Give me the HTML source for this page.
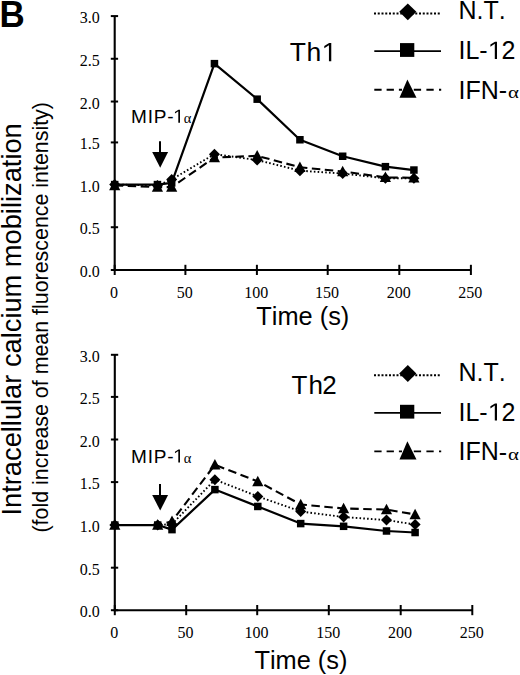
<!DOCTYPE html>
<html><head><meta charset="utf-8"><style>
html,body{margin:0;padding:0;background:#fff;}
body{width:520px;height:675px;overflow:hidden;}
svg{display:block;}
text{font-kerning:none;}
</style></head><body>
<svg width="520" height="675" viewBox="0 0 520 675">
<rect width="520" height="675" fill="#fff"/>
<line x1="114.70" y1="16.08" x2="114.70" y2="271.00" stroke="#000" stroke-width="2.1"/>
<line x1="113.70" y1="270.00" x2="470.90" y2="270.00" stroke="#000" stroke-width="2.1"/>
<line x1="110.80" y1="270.00" x2="118.10" y2="270.00" stroke="#000" stroke-width="2"/>
<text x="99.8" y="277.00" text-anchor="end" font-family='"Liberation Serif", serif' font-size="16">0.0</text>
<line x1="110.80" y1="227.23" x2="118.10" y2="227.23" stroke="#000" stroke-width="2"/>
<text x="99.8" y="234.23" text-anchor="end" font-family='"Liberation Serif", serif' font-size="16">0.5</text>
<line x1="110.80" y1="184.80" x2="118.10" y2="184.80" stroke="#000" stroke-width="2"/>
<text x="99.8" y="191.80" text-anchor="end" font-family='"Liberation Serif", serif' font-size="16">1.0</text>
<line x1="110.80" y1="142.42" x2="118.10" y2="142.42" stroke="#000" stroke-width="2"/>
<text x="99.8" y="149.42" text-anchor="end" font-family='"Liberation Serif", serif' font-size="16">1.5</text>
<line x1="110.80" y1="101.54" x2="118.10" y2="101.54" stroke="#000" stroke-width="2"/>
<text x="99.8" y="108.54" text-anchor="end" font-family='"Liberation Serif", serif' font-size="16">2.0</text>
<line x1="110.80" y1="58.77" x2="118.10" y2="58.77" stroke="#000" stroke-width="2"/>
<text x="99.8" y="65.77" text-anchor="end" font-family='"Liberation Serif", serif' font-size="16">2.5</text>
<line x1="110.80" y1="16.08" x2="118.10" y2="16.08" stroke="#000" stroke-width="2"/>
<text x="99.8" y="23.08" text-anchor="end" font-family='"Liberation Serif", serif' font-size="16">3.0</text>
<line x1="114.70" y1="264.80" x2="114.70" y2="275.00" stroke="#000" stroke-width="2"/>
<text x="114.10" y="297.80" text-anchor="middle" font-family='"Liberation Serif", serif' font-size="16">0</text>
<line x1="185.40" y1="264.80" x2="185.40" y2="275.00" stroke="#000" stroke-width="2"/>
<text x="184.80" y="297.80" text-anchor="middle" font-family='"Liberation Serif", serif' font-size="16">50</text>
<line x1="256.90" y1="264.80" x2="256.90" y2="275.00" stroke="#000" stroke-width="2"/>
<text x="256.30" y="297.80" text-anchor="middle" font-family='"Liberation Serif", serif' font-size="16">100</text>
<line x1="327.70" y1="264.80" x2="327.70" y2="275.00" stroke="#000" stroke-width="2"/>
<text x="327.10" y="297.80" text-anchor="middle" font-family='"Liberation Serif", serif' font-size="16">150</text>
<line x1="399.30" y1="264.80" x2="399.30" y2="275.00" stroke="#000" stroke-width="2"/>
<text x="398.70" y="297.80" text-anchor="middle" font-family='"Liberation Serif", serif' font-size="16">200</text>
<line x1="470.90" y1="264.80" x2="470.90" y2="275.00" stroke="#000" stroke-width="2"/>
<text x="470.30" y="297.80" text-anchor="middle" font-family='"Liberation Serif", serif' font-size="16">250</text>
<polyline points="114.70,185.43 157.44,187.12 171.69,187.12 214.44,157.52 257.18,155.83 299.92,167.25 342.67,171.48 385.41,177.40 413.91,177.82" fill="none" stroke="#000" stroke-width="2.1" stroke-dasharray="8.5 4.5"/>
<path d="M114.70 179.66L120.30 190.16L109.10 190.16Z" fill="#000"/>
<path d="M157.44 181.35L163.04 191.85L151.84 191.85Z" fill="#000"/>
<path d="M171.69 181.35L177.29 191.85L166.09 191.85Z" fill="#000"/>
<path d="M214.44 151.75L220.04 162.25L208.84 162.25Z" fill="#000"/>
<path d="M257.18 150.06L262.78 160.56L251.58 160.56Z" fill="#000"/>
<path d="M299.92 161.47L305.52 171.97L294.32 171.97Z" fill="#000"/>
<path d="M342.67 165.70L348.27 176.20L337.07 176.20Z" fill="#000"/>
<path d="M385.41 171.62L391.01 182.12L379.81 182.12Z" fill="#000"/>
<path d="M413.91 172.04L419.51 182.54L408.31 182.54Z" fill="#000"/>
<polyline points="114.70,184.58 157.44,185.43 171.69,179.51 214.44,154.14 257.18,160.06 299.92,170.63 342.67,173.59 385.41,178.24 413.91,178.24" fill="none" stroke="#000" stroke-width="1.9" stroke-dasharray="1.6 2.2"/>
<path d="M114.70 179.08L120.20 184.58L114.70 190.08L109.20 184.58Z" fill="#000"/>
<path d="M157.44 179.93L162.94 185.43L157.44 190.93L151.94 185.43Z" fill="#000"/>
<path d="M171.69 174.01L177.19 179.51L171.69 185.01L166.19 179.51Z" fill="#000"/>
<path d="M214.44 148.64L219.94 154.14L214.44 159.64L208.94 154.14Z" fill="#000"/>
<path d="M257.18 154.56L262.68 160.06L257.18 165.56L251.68 160.06Z" fill="#000"/>
<path d="M299.92 165.13L305.42 170.63L299.92 176.13L294.42 170.63Z" fill="#000"/>
<path d="M342.67 168.09L348.17 173.59L342.67 179.09L337.17 173.59Z" fill="#000"/>
<path d="M385.41 172.74L390.91 178.24L385.41 183.74L379.91 178.24Z" fill="#000"/>
<path d="M413.91 172.74L419.41 178.24L413.91 183.74L408.41 178.24Z" fill="#000"/>
<polyline points="114.70,184.58 157.44,184.58 171.69,182.89 214.44,63.65 257.18,99.17 299.92,139.76 342.67,156.25 385.41,166.66 413.91,170.04" fill="none" stroke="#000" stroke-width="2.2" stroke-linejoin="round"/>
<rect x="110.95" y="180.83" width="7.50" height="7.50" fill="#000"/>
<rect x="153.69" y="180.83" width="7.50" height="7.50" fill="#000"/>
<rect x="167.94" y="179.14" width="7.50" height="7.50" fill="#000"/>
<rect x="210.69" y="59.90" width="7.50" height="7.50" fill="#000"/>
<rect x="253.43" y="95.42" width="7.50" height="7.50" fill="#000"/>
<rect x="296.17" y="136.01" width="7.50" height="7.50" fill="#000"/>
<rect x="338.92" y="152.50" width="7.50" height="7.50" fill="#000"/>
<rect x="381.66" y="162.91" width="7.50" height="7.50" fill="#000"/>
<rect x="410.16" y="166.29" width="7.50" height="7.50" fill="#000"/>
<line x1="114.80" y1="354.80" x2="114.80" y2="611.20" stroke="#000" stroke-width="2.1"/>
<line x1="113.80" y1="610.20" x2="472.30" y2="610.20" stroke="#000" stroke-width="2.1"/>
<line x1="110.90" y1="610.20" x2="118.20" y2="610.20" stroke="#000" stroke-width="2"/>
<text x="99.8" y="617.20" text-anchor="end" font-family='"Liberation Serif", serif' font-size="16">0.0</text>
<line x1="110.90" y1="567.70" x2="118.20" y2="567.70" stroke="#000" stroke-width="2"/>
<text x="99.8" y="574.70" text-anchor="end" font-family='"Liberation Serif", serif' font-size="16">0.5</text>
<line x1="110.90" y1="524.90" x2="118.20" y2="524.90" stroke="#000" stroke-width="2"/>
<text x="99.8" y="531.90" text-anchor="end" font-family='"Liberation Serif", serif' font-size="16">1.0</text>
<line x1="110.90" y1="482.10" x2="118.20" y2="482.10" stroke="#000" stroke-width="2"/>
<text x="99.8" y="489.10" text-anchor="end" font-family='"Liberation Serif", serif' font-size="16">1.5</text>
<line x1="110.90" y1="439.50" x2="118.20" y2="439.50" stroke="#000" stroke-width="2"/>
<text x="99.8" y="446.50" text-anchor="end" font-family='"Liberation Serif", serif' font-size="16">2.0</text>
<line x1="110.90" y1="396.90" x2="118.20" y2="396.90" stroke="#000" stroke-width="2"/>
<text x="99.8" y="403.90" text-anchor="end" font-family='"Liberation Serif", serif' font-size="16">2.5</text>
<line x1="110.90" y1="354.80" x2="118.20" y2="354.80" stroke="#000" stroke-width="2"/>
<text x="99.8" y="361.80" text-anchor="end" font-family='"Liberation Serif", serif' font-size="16">3.0</text>
<line x1="114.80" y1="605.00" x2="114.80" y2="615.20" stroke="#000" stroke-width="2"/>
<text x="114.20" y="638.00" text-anchor="middle" font-family='"Liberation Serif", serif' font-size="16">0</text>
<line x1="186.20" y1="605.00" x2="186.20" y2="615.20" stroke="#000" stroke-width="2"/>
<text x="185.60" y="638.00" text-anchor="middle" font-family='"Liberation Serif", serif' font-size="16">50</text>
<line x1="257.20" y1="605.00" x2="257.20" y2="615.20" stroke="#000" stroke-width="2"/>
<text x="256.60" y="638.00" text-anchor="middle" font-family='"Liberation Serif", serif' font-size="16">100</text>
<line x1="328.80" y1="605.00" x2="328.80" y2="615.20" stroke="#000" stroke-width="2"/>
<text x="328.20" y="638.00" text-anchor="middle" font-family='"Liberation Serif", serif' font-size="16">150</text>
<line x1="400.70" y1="605.00" x2="400.70" y2="615.20" stroke="#000" stroke-width="2"/>
<text x="400.10" y="638.00" text-anchor="middle" font-family='"Liberation Serif", serif' font-size="16">200</text>
<line x1="472.30" y1="605.00" x2="472.30" y2="615.20" stroke="#000" stroke-width="2"/>
<text x="471.70" y="638.00" text-anchor="middle" font-family='"Liberation Serif", serif' font-size="16">250</text>
<polyline points="114.80,525.03 157.70,525.03 172.00,521.20 214.90,464.81 257.80,481.42 300.70,504.50 343.60,508.51 386.50,509.53 415.10,514.47" fill="none" stroke="#000" stroke-width="2.1" stroke-dasharray="8.5 4.5"/>
<path d="M114.80 519.26L120.40 529.76L109.20 529.76Z" fill="#000"/>
<path d="M157.70 519.26L163.30 529.76L152.10 529.76Z" fill="#000"/>
<path d="M172.00 515.42L177.60 525.92L166.40 525.92Z" fill="#000"/>
<path d="M214.90 459.04L220.50 469.54L209.30 469.54Z" fill="#000"/>
<path d="M257.80 475.65L263.40 486.15L252.20 486.15Z" fill="#000"/>
<path d="M300.70 498.73L306.30 509.23L295.10 509.23Z" fill="#000"/>
<path d="M343.60 502.73L349.20 513.23L338.00 513.23Z" fill="#000"/>
<path d="M386.50 503.75L392.10 514.25L380.90 514.25Z" fill="#000"/>
<path d="M415.10 508.69L420.70 519.19L409.50 519.19Z" fill="#000"/>
<polyline points="114.80,525.03 157.70,525.03 172.00,524.18 214.90,479.63 257.80,496.41 300.70,511.49 343.60,517.02 386.50,520.09 415.10,524.52" fill="none" stroke="#000" stroke-width="1.9" stroke-dasharray="1.6 2.2"/>
<path d="M114.80 519.53L120.30 525.03L114.80 530.53L109.30 525.03Z" fill="#000"/>
<path d="M157.70 519.53L163.20 525.03L157.70 530.53L152.20 525.03Z" fill="#000"/>
<path d="M172.00 518.68L177.50 524.18L172.00 529.68L166.50 524.18Z" fill="#000"/>
<path d="M214.90 474.13L220.40 479.63L214.90 485.13L209.40 479.63Z" fill="#000"/>
<path d="M257.80 490.91L263.30 496.41L257.80 501.91L252.30 496.41Z" fill="#000"/>
<path d="M300.70 505.99L306.20 511.49L300.70 516.99L295.20 511.49Z" fill="#000"/>
<path d="M343.60 511.52L349.10 517.02L343.60 522.52L338.10 517.02Z" fill="#000"/>
<path d="M386.50 514.59L392.00 520.09L386.50 525.59L381.00 520.09Z" fill="#000"/>
<path d="M415.10 519.02L420.60 524.52L415.10 530.02L409.60 524.52Z" fill="#000"/>
<polyline points="114.80,525.03 157.70,525.03 172.00,529.63 214.90,489.60 257.80,506.46 300.70,523.58 343.60,526.31 386.50,530.99 415.10,532.52" fill="none" stroke="#000" stroke-width="2.2" stroke-linejoin="round"/>
<rect x="111.05" y="521.28" width="7.50" height="7.50" fill="#000"/>
<rect x="153.95" y="521.28" width="7.50" height="7.50" fill="#000"/>
<rect x="168.25" y="525.88" width="7.50" height="7.50" fill="#000"/>
<rect x="211.15" y="485.85" width="7.50" height="7.50" fill="#000"/>
<rect x="254.05" y="502.71" width="7.50" height="7.50" fill="#000"/>
<rect x="296.95" y="519.83" width="7.50" height="7.50" fill="#000"/>
<rect x="339.85" y="522.56" width="7.50" height="7.50" fill="#000"/>
<rect x="382.75" y="527.24" width="7.50" height="7.50" fill="#000"/>
<rect x="411.35" y="528.77" width="7.50" height="7.50" fill="#000"/>
<text x="256.30" y="325.00" font-family='"Liberation Sans", sans-serif' font-size="25" textLength="93" lengthAdjust="spacingAndGlyphs">Time (s)</text>
<text x="131.0" y="122.80" font-family='"Liberation Sans", sans-serif' font-size="19" letter-spacing="0.8">MIP-</text>
<path transform="translate(172.90 122.80) scale(0.00928 -0.00928)" d="M583 0V1237L223 1000V1170L598 1409H763V0Z" fill="#000"/>
<text x="183.65" y="123.00" font-family='"Liberation Serif", serif' font-size="14.5">α</text>
<line x1="160" y1="141.20" x2="160" y2="153.00" stroke="#000" stroke-width="2"/>
<path d="M152.2 152.10L168.1 152.10L160.2 167.70Z" fill="#000"/>
<line x1="374" y1="13.50" x2="440" y2="13.50" stroke="#000" stroke-width="1.9" stroke-dasharray="2 1.75"/>
<path d="M407.8 3.40L416.4 11.80L407.8 20.20L399.2 11.80Z" fill="#000"/>
<line x1="374.3" y1="51.20" x2="441" y2="51.20" stroke="#000" stroke-width="1.8"/>
<rect x="400" y="43.10" width="14.3" height="13.8" fill="#000"/>
<line x1="374.3" y1="89.70" x2="402" y2="89.70" stroke="#000" stroke-width="1.9" stroke-dasharray="7.3 5"/>
<line x1="413.8" y1="89.70" x2="441.2" y2="89.70" stroke="#000" stroke-width="1.9" stroke-dasharray="7.3 5.3"/>
<path d="M407.4 79.50L416.5 97.70L399.5 97.70Z" fill="#000"/>
<text x="458.5" y="18.80" font-family='"Liberation Sans", sans-serif' font-size="25">N.T.</text>
<text y="58.90" font-family='"Liberation Sans", sans-serif' font-size="25"><tspan x="458.5">IL</tspan><tspan x="479.35" dy="0.4">-</tspan><tspan x="501.58" dy="-0.4">2</tspan></text>
<path transform="translate(487.68 58.90) scale(0.01221 -0.01221)" d="M583 0V1237L223 1000V1170L598 1409H763V0Z" fill="#000"/>
<text x="458.5" y="98.60" font-family='"Liberation Sans", sans-serif' font-size="25">IFN<tspan dy="0.6">-</tspan></text>
<text transform="translate(507.91 98.40) scale(1.3 1)" font-family='"Liberation Serif", serif' font-size="16">α</text>
<text x="254.40" y="668.50" font-family='"Liberation Sans", sans-serif' font-size="25" textLength="93" lengthAdjust="spacingAndGlyphs">Time (s)</text>
<text x="131.0" y="462.50" font-family='"Liberation Sans", sans-serif' font-size="19" letter-spacing="0.8">MIP-</text>
<path transform="translate(172.90 462.50) scale(0.00928 -0.00928)" d="M583 0V1237L223 1000V1170L598 1409H763V0Z" fill="#000"/>
<text x="183.65" y="462.70" font-family='"Liberation Serif", serif' font-size="14.5">α</text>
<line x1="160" y1="484.10" x2="160" y2="495.90" stroke="#000" stroke-width="2"/>
<path d="M152.2 495.00L168.1 495.00L160.2 510.60Z" fill="#000"/>
<line x1="374" y1="375.20" x2="440" y2="375.20" stroke="#000" stroke-width="1.9" stroke-dasharray="2 1.75"/>
<path d="M407.8 365.10L416.4 373.50L407.8 381.90L399.2 373.50Z" fill="#000"/>
<line x1="374.3" y1="412.90" x2="441" y2="412.90" stroke="#000" stroke-width="1.8"/>
<rect x="400" y="404.80" width="14.3" height="13.8" fill="#000"/>
<line x1="374.3" y1="451.40" x2="402" y2="451.40" stroke="#000" stroke-width="1.9" stroke-dasharray="7.3 5"/>
<line x1="413.8" y1="451.40" x2="441.2" y2="451.40" stroke="#000" stroke-width="1.9" stroke-dasharray="7.3 5.3"/>
<path d="M407.4 441.20L416.5 459.40L399.5 459.40Z" fill="#000"/>
<text x="458.5" y="380.50" font-family='"Liberation Sans", sans-serif' font-size="25">N.T.</text>
<text y="420.60" font-family='"Liberation Sans", sans-serif' font-size="25"><tspan x="458.5">IL</tspan><tspan x="479.35" dy="0.4">-</tspan><tspan x="501.58" dy="-0.4">2</tspan></text>
<path transform="translate(487.68 420.60) scale(0.01221 -0.01221)" d="M583 0V1237L223 1000V1170L598 1409H763V0Z" fill="#000"/>
<text x="458.5" y="460.30" font-family='"Liberation Sans", sans-serif' font-size="25">IFN<tspan dy="0.6">-</tspan></text>
<text transform="translate(507.91 460.10) scale(1.3 1)" font-family='"Liberation Serif", serif' font-size="16">α</text>
<text y="61.2" font-family='"Liberation Sans", sans-serif' font-size="26.5"><tspan x="289.8">T</tspan><tspan x="306.5">h</tspan></text>
<path transform="translate(321.40 61.20) scale(0.01294 -0.01294)" d="M583 0V1237L223 1000V1170L598 1409H763V0Z" fill="#000"/>
<text y="394.2" font-family='"Liberation Sans", sans-serif' font-size="26"><tspan x="291.5">T</tspan><tspan x="308.6">h</tspan><tspan x="322.2">2</tspan></text>
<text transform="translate(-0.5 27) scale(1 1.075)" font-family='"Liberation Sans", sans-serif' font-weight="bold" font-size="35">B</text>
<text transform="translate(20.8 515.5) rotate(-90)" font-family='"Liberation Sans", sans-serif' font-size="27.25">Intracellular calcium mobilization</text>
<text transform="translate(48 532.5) rotate(-90)" font-family='"Liberation Sans", sans-serif' font-size="21.4">(fold increase of mean fluorescence intensity)</text>
</svg>
</body></html>
